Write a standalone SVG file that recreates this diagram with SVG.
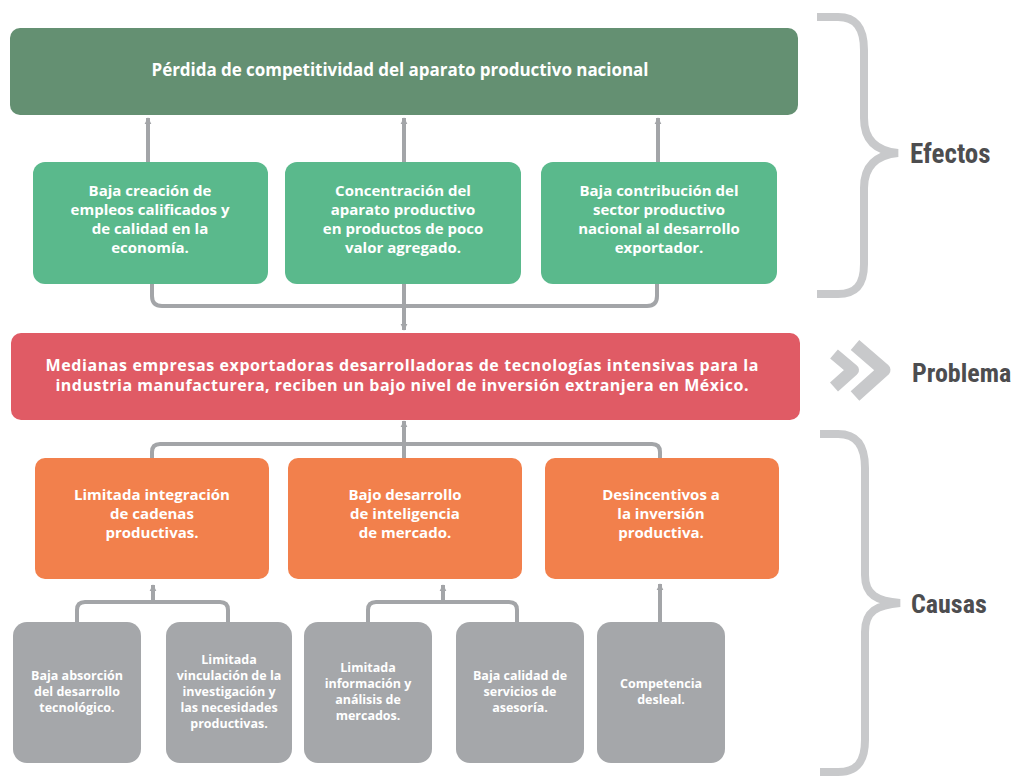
<svg xmlns="http://www.w3.org/2000/svg" width="1017" height="778" viewBox="0 0 1017 778">
<style>
.box{stroke:none}
.t{font-family:"Open Sans","Noto Sans",sans-serif;font-weight:bold;fill:#ffffff;text-anchor:middle}
.lbl{font-family:"Roboto Condensed","Liberation Sans Narrow","DejaVu Sans Condensed","Liberation Sans",sans-serif;font-stretch:condensed;font-weight:bold;fill:#4d4d4f}
.con{fill:none;stroke:#a3a5a8;stroke-width:4}
.brace{fill:none;stroke:#c8c9cb;stroke-width:8}
.chev{fill:none;stroke:#c8c9cb;stroke-linejoin:round}
</style>
<defs>
<marker id="ah" viewBox="0 0 10 10" refX="9" refY="5" markerUnits="userSpaceOnUse" markerWidth="7" markerHeight="11" orient="auto">
<path d="M0,0 L10,5 L0,10 z" fill="#a3a5a8"/>
</marker>
</defs>
<rect width="1017" height="778" fill="#ffffff"/>

<g id="connectors">
<path class="con" d="M148,162 V118" marker-end="url(#ah)"/>
<path class="con" d="M404,162 V118" marker-end="url(#ah)"/>
<path class="con" d="M658,162 V118" marker-end="url(#ah)"/>
<path class="con" d="M152,284 V296 Q152,306 162,306 H647 Q657,306 657,296 V284"/>
<path class="con" d="M404,284 V330" marker-end="url(#ah)"/>
<path class="con" d="M152,458 V452 Q152,444 160,444 H652 Q660,444 660,452 V458"/>
<path class="con" d="M404,458 V421" marker-end="url(#ah)"/>
<path class="con" d="M77,622 V610 Q77,602 85,602 H220 Q228,602 228,610 V622"/>
<path class="con" d="M153,602 V585" marker-end="url(#ah)"/>
<path class="con" d="M368,622 V610 Q368,602 376,602 H509 Q517,602 517,610 V622"/>
<path class="con" d="M443,602 V585" marker-end="url(#ah)"/>
<path class="con" d="M660,622 V584" marker-end="url(#ah)"/>
</g>

<g id="efecto-principal">
<rect class="box" x="10" y="28" width="788" height="87" rx="10" fill="#649072"/>
<text class="t" x="400" y="76" font-size="17" textLength="497">Pérdida de competitividad del aparato productivo nacional</text>
</g>

<g id="efecto-1">
<rect class="box" x="33" y="162" width="235" height="122" rx="12" fill="#5ab98c"/>
<text class="t" font-size="15"><tspan x="150" y="196">Baja creación de</tspan><tspan x="150" y="215">empleos calificados y</tspan><tspan x="150" y="234">de calidad en la</tspan><tspan x="150" y="253">economía.</tspan></text>
</g>
<g id="efecto-2">
<rect class="box" x="285" y="162" width="236" height="122" rx="12" fill="#5ab98c"/>
<text class="t" font-size="15"><tspan x="403" y="196">Concentración del</tspan><tspan x="403" y="215">aparato productivo</tspan><tspan x="403" y="234">en productos de poco</tspan><tspan x="403" y="253">valor agregado.</tspan></text>
</g>
<g id="efecto-3">
<rect class="box" x="541" y="162" width="236" height="122" rx="12" fill="#5ab98c"/>
<text class="t" font-size="15"><tspan x="659" y="196">Baja contribución del</tspan><tspan x="659" y="215">sector productivo</tspan><tspan x="659" y="234">nacional al desarrollo</tspan><tspan x="659" y="253">exportador.</tspan></text>
</g>

<g id="problema">
<rect class="box" x="11" y="333" width="789" height="87" rx="10" fill="#e05b65"/>
<text class="t" font-size="16"><tspan x="402" y="371" textLength="713">Medianas empresas exportadoras desarrolladoras de tecnologías intensivas para la</tspan><tspan x="402" y="391" textLength="693">industria manufacturera, reciben un bajo nivel de inversión extranjera en México.</tspan></text>
</g>

<g id="causa-1">
<rect class="box" x="35" y="458" width="234" height="121" rx="10" fill="#f2804c"/>
<text class="t" font-size="15"><tspan x="152" y="500">Limitada integración</tspan><tspan x="152" y="519">de cadenas</tspan><tspan x="152" y="538">productivas.</tspan></text>
</g>
<g id="causa-2">
<rect class="box" x="288" y="458" width="234" height="121" rx="10" fill="#f2804c"/>
<text class="t" font-size="15"><tspan x="405" y="500">Bajo desarrollo</tspan><tspan x="405" y="519">de inteligencia</tspan><tspan x="405" y="538">de mercado.</tspan></text>
</g>
<g id="causa-3">
<rect class="box" x="545" y="458" width="234" height="121" rx="10" fill="#f2804c"/>
<text class="t" font-size="15"><tspan x="661" y="500">Desincentivos a</tspan><tspan x="661" y="519">la inversión</tspan><tspan x="661" y="538">productiva.</tspan></text>
</g>

<g id="subcausa-1">
<rect class="box" x="13" y="622" width="128" height="141" rx="14" fill="#a5a7aa"/>
<text class="t" font-size="12.5"><tspan x="77" y="680">Baja absorción</tspan><tspan x="77" y="696">del desarrollo</tspan><tspan x="77" y="712">tecnológico.</tspan></text>
</g>
<g id="subcausa-2">
<rect class="box" x="166" y="622" width="126" height="141" rx="14" fill="#a5a7aa"/>
<text class="t" font-size="12.5"><tspan x="229" y="664">Limitada</tspan><tspan x="229" y="680">vinculación de la</tspan><tspan x="229" y="696">investigación y</tspan><tspan x="229" y="712">las necesidades</tspan><tspan x="229" y="728">productivas.</tspan></text>
</g>
<g id="subcausa-3">
<rect class="box" x="304" y="622" width="128" height="141" rx="14" fill="#a5a7aa"/>
<text class="t" font-size="12.5"><tspan x="368" y="672">Limitada</tspan><tspan x="368" y="688">información y</tspan><tspan x="368" y="704">análisis de</tspan><tspan x="368" y="720">mercados.</tspan></text>
</g>
<g id="subcausa-4">
<rect class="box" x="456" y="622" width="128" height="141" rx="14" fill="#a5a7aa"/>
<text class="t" font-size="12.5"><tspan x="520" y="680">Baja calidad de</tspan><tspan x="520" y="696">servicios de</tspan><tspan x="520" y="712">asesoría.</tspan></text>
</g>
<g id="subcausa-5">
<rect class="box" x="597" y="622" width="128" height="141" rx="14" fill="#a5a7aa"/>
<text class="t" font-size="12.5"><tspan x="661" y="688">Competencia</tspan><tspan x="661" y="704">desleal.</tspan></text>
</g>

<g id="efectos-label">
<path class="brace" d="M817,17 L838,17 C856,17 864,28 864,50 L864,118 C864,140 876,151 898,153 C876,155 864,166 864,188 L864,264 C864,285 856,294 838,294 L817,294"/>
<text class="lbl" x="910" y="163" font-size="27">Efectos</text>
</g>
<g id="problema-label">
<polyline class="chev" points="834,354 853,370 834,387" stroke-width="12"/>
<polyline class="chev" points="855,345 884,370 855,396" stroke-width="13"/>
<text class="lbl" x="912" y="382" font-size="26">Problema</text>
</g>
<g id="causas-label">
<path class="brace" d="M820,434 L838,434 C857,434 865,446 865,468 L865,575 C865,595 877,601 900,603 C877,605 865,611 865,632 L865,740 C865,762 857,772 838,772 L820,772"/>
<text class="lbl" x="911" y="613" font-size="26">Causas</text>
</g>
</svg>
